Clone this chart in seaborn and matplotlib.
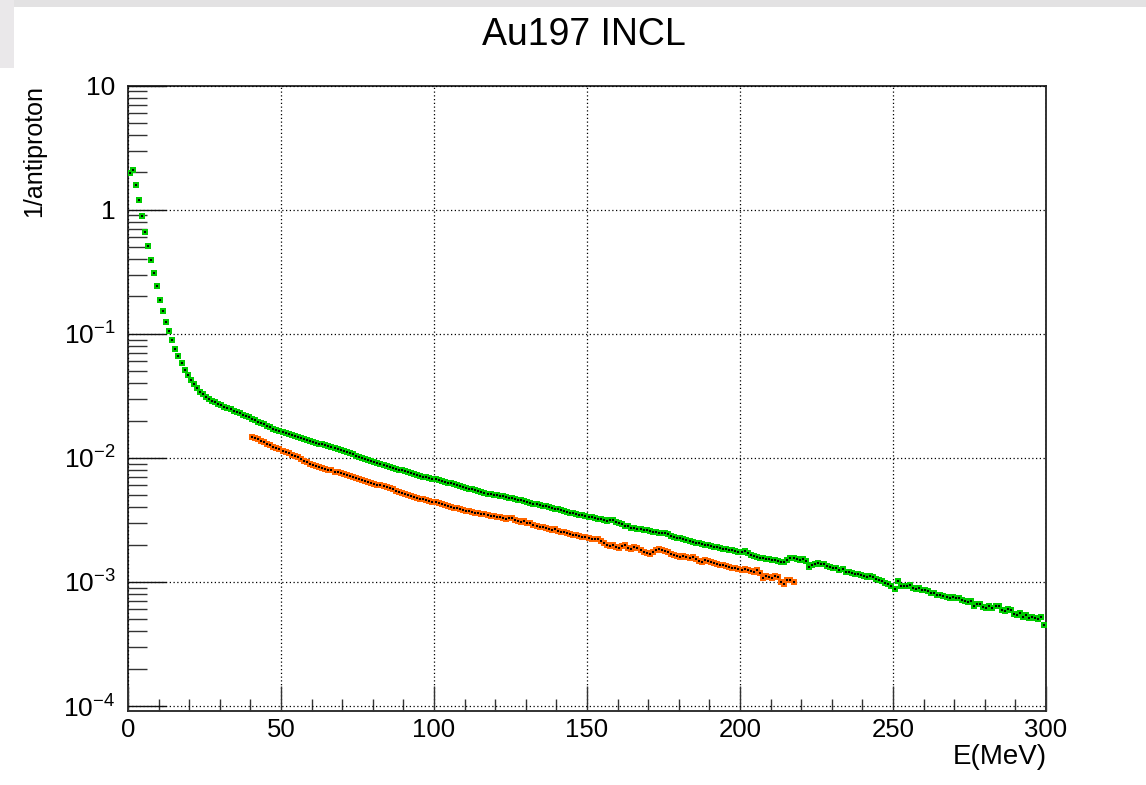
import numpy as np
import pandas as pd
import matplotlib
matplotlib.use("Agg")
import matplotlib.pyplot as plt
import seaborn as sns
from matplotlib.ticker import MultipleLocator, LogLocator, NullFormatter, FixedLocator
from matplotlib.patches import Rectangle

# ---------------- data (1 MeV bins) ----------------
title = "Au197 INCL"
x_label = "E(MeV)"
y_label = "1/antiproton"
bin_width = 1.0
green_first_bin = 0.0
orange_first_bin = 40.0

green_values = [
    1.98, 2.08, 1.57, 1.19, 0.89, 0.665, 0.513, 0.392, 0.308, 0.242,
    0.189, 0.153, 0.125, 0.105, 0.0887, 0.0751, 0.0657, 0.0577, 0.0510, 0.0462,
    0.0427, 0.0394, 0.0368, 0.0342, 0.0325, 0.0312, 0.0297, 0.0288, 0.0280, 0.0274,
    0.0266, 0.0259, 0.0254, 0.0246, 0.0240, 0.0236, 0.0230, 0.0223, 0.0219, 0.0213,
    0.0206, 0.0201, 0.0196, 0.0190, 0.0186, 0.0181, 0.0177, 0.0172, 0.0168, 0.0165,
    0.0162, 0.0159, 0.0156, 0.0153, 0.0150, 0.0147, 0.0145, 0.0141, 0.0139, 0.0137,
    0.0135, 0.0132, 0.0130, 0.0129, 0.0127, 0.0124, 0.0122, 0.0120, 0.0118, 0.0116,
    0.0113, 0.0111, 0.0109, 0.0107, 0.0104, 0.0102, 0.0100, 0.00985, 0.00965, 0.00950,
    0.00930, 0.00910, 0.00895, 0.00880, 0.00862, 0.00852, 0.00835, 0.00820, 0.00805, 0.00792,
    0.00780, 0.00765, 0.00752, 0.00740, 0.00728, 0.00715, 0.00705, 0.00698, 0.00688, 0.00680,
    0.00672, 0.00661, 0.00650, 0.00642, 0.00630, 0.00622, 0.00612, 0.00600, 0.00592, 0.00585,
    0.00575, 0.00565, 0.00558, 0.00548, 0.00538, 0.00530, 0.00524, 0.00515, 0.00510, 0.00505,
    0.00500, 0.00496, 0.00490, 0.00486, 0.00478, 0.00474, 0.00468, 0.00460, 0.00455, 0.00448,
    0.00442, 0.00436, 0.00428, 0.00422, 0.00418, 0.00412, 0.00406, 0.00400, 0.00394, 0.00390,
    0.00384, 0.00378, 0.00372, 0.00367, 0.00362, 0.00358, 0.00352, 0.00348, 0.00344, 0.00338,
    0.00334, 0.00332, 0.00328, 0.00324, 0.00320, 0.00316, 0.00312, 0.00316, 0.00314, 0.00305,
    0.00298, 0.00292, 0.00285, 0.00280, 0.00274, 0.00270, 0.00268, 0.00266, 0.00264, 0.00262,
    0.00258, 0.00255, 0.00252, 0.00250, 0.00250, 0.00246, 0.00242, 0.00236, 0.00232, 0.00228,
    0.00225, 0.00222, 0.00218, 0.00214, 0.00211, 0.00208, 0.00206, 0.00204, 0.00200, 0.00198,
    0.00196, 0.00193, 0.00190, 0.00188, 0.00186, 0.00183, 0.00181, 0.00180, 0.00177, 0.00176,
    0.00174, 0.00178, 0.00170, 0.00166, 0.00163, 0.00160, 0.00157, 0.00155, 0.00154, 0.00152,
    0.00150, 0.00149, 0.00147, 0.00146, 0.00146, 0.00150, 0.00156, 0.00155, 0.00152, 0.00150,
    0.00153, 0.00148, 0.00133, 0.00137, 0.00140, 0.00142, 0.00140, 0.00139, 0.00135, 0.00131,
    0.00130, 0.00129, 0.00125, 0.00127, 0.00121, 0.00120, 0.00119, 0.00115, 0.00117, 0.00114,
    0.00111, 0.00110, 0.00112, 0.00110, 0.00106, 0.00104, 0.00101, 0.00098, 0.00096, 0.000935,
    0.000880, 0.00101, 0.000935, 0.000920, 0.000935, 0.000945, 0.000900, 0.000880, 0.000890, 0.000865,
    0.000855, 0.000840, 0.000815, 0.000820, 0.000790, 0.000780, 0.000770, 0.000760, 0.000740, 0.000755,
    0.000745, 0.000740, 0.000720, 0.000700, 0.000690, 0.000700, 0.000640, 0.000670, 0.000665, 0.000630,
    0.000615, 0.000640, 0.000620, 0.000640, 0.000645, 0.000590, 0.000585, 0.000600, 0.000590, 0.000555,
    0.000540, 0.000560, 0.000520, 0.000545, 0.000510, 0.000525, 0.000510, 0.000505, 0.000525, 0.000450,
]

orange_values = [
    0.0148, 0.0144, 0.0141, 0.0137, 0.0134, 0.0130, 0.0127, 0.0123, 0.0120, 0.0117,
    0.0114, 0.0112, 0.0109, 0.0106, 0.0103, 0.0101, 0.00980, 0.00950, 0.00925, 0.00895,
    0.00872, 0.00862, 0.00850, 0.00830, 0.00820, 0.00805, 0.00795, 0.00775, 0.00765, 0.00752,
    0.00740, 0.00725, 0.00712, 0.00700, 0.00690, 0.00675, 0.00662, 0.00652, 0.00640, 0.00630,
    0.00620, 0.00610, 0.00600, 0.00590, 0.00578, 0.00568, 0.00558, 0.00545, 0.00535, 0.00525,
    0.00514, 0.00505, 0.00495, 0.00484, 0.00478, 0.00470, 0.00464, 0.00458, 0.00452, 0.00445,
    0.00440, 0.00432, 0.00425, 0.00418, 0.00412, 0.00405, 0.00398, 0.00392, 0.00385, 0.00379,
    0.00375, 0.00370, 0.00366, 0.00362, 0.00358, 0.00354, 0.00350, 0.00346, 0.00342, 0.00338,
    0.00335, 0.00333, 0.00326, 0.00320, 0.00325, 0.00330, 0.00318, 0.00310, 0.00305, 0.00308,
    0.00300, 0.00298, 0.00290, 0.00282, 0.00278, 0.00276, 0.00272, 0.00268, 0.00262, 0.00265,
    0.00258, 0.00254, 0.00255, 0.00250, 0.00245, 0.00240, 0.00238, 0.00236, 0.00232, 0.00230,
    0.00226, 0.00224, 0.00222, 0.00220, 0.00212, 0.00206, 0.00200, 0.00196, 0.00198, 0.00192,
    0.00188, 0.00194, 0.00198, 0.00188, 0.00186, 0.00192, 0.00188, 0.00180, 0.00175, 0.00172,
    0.00168, 0.00176, 0.00180, 0.00184, 0.00182, 0.00178, 0.00174, 0.00168, 0.00165, 0.00162,
    0.00160, 0.00162, 0.00158, 0.00155, 0.00158, 0.00152, 0.00148, 0.00146, 0.00150, 0.00148,
    0.00146, 0.00142, 0.00140, 0.00138, 0.00136, 0.00134, 0.00132, 0.00130, 0.00129, 0.00127,
    0.00126, 0.00127, 0.00124, 0.00122, 0.00120, 0.00124, 0.00118, 0.00108, 0.00112, 0.00110,
    0.00108, 0.00111, 0.00110, 0.00100, 0.00097, 0.00103, 0.00104, 0.00100,
]

x_major_ticks = [0, 50, 100, 150, 200, 250, 300]
y_major_ticks = [1e-4, 1e-3, 1e-2, 1e-1, 1, 10]
y_tick_labels = [r"$\mathregular{10^{-4}}$", r"$\mathregular{10^{-3}}$", r"$\mathregular{10^{-2}}$",
                 r"$\mathregular{10^{-1}}$", "1", "10"]

green_color = "#00cc00"
orange_color = "#ff6600"

# ---------------- build frames ----------------
def centers(first, n):
    return first + bin_width * (np.arange(n) + 0.5)

df_g = pd.DataFrame({"E": centers(green_first_bin, len(green_values)), "y": green_values})
df_o = pd.DataFrame({"E": centers(orange_first_bin, len(orange_values)), "y": orange_values})

# ---------------- style ----------------
sns.set_theme(style="white")
plt.rcParams["font.family"] = ["Liberation Sans", "DejaVu Sans"]
plt.rcParams["mathtext.fontset"] = "custom"
plt.rcParams["mathtext.rm"] = "Liberation Sans"
plt.rcParams["mathtext.it"] = "Liberation Sans:italic"
plt.rcParams["mathtext.bf"] = "Liberation Sans:bold"
plt.rcParams["text.color"] = "black"
plt.rcParams["xtick.labelcolor"] = "black"
plt.rcParams["ytick.labelcolor"] = "black"

fig = plt.figure(figsize=(11.46, 7.85), dpi=100)
fig.patch.set_facecolor("white")
# canvas window frame remnants (top band and left strip)
fig.patches.append(Rectangle((0, 1 - 7 / 785), 1, 7 / 785, transform=fig.transFigure,
                             facecolor="#e3e2e3", edgecolor="none", zorder=0))
fig.patches.append(Rectangle((0, 1 - 68 / 785), 14 / 1146, 68 / 785, transform=fig.transFigure,
                             facecolor="#eae8ea", edgecolor="none", zorder=0))

ax = fig.add_axes([128 / 1146, 1 - 711 / 785, (1046 - 128) / 1146, (711 - 85.7) / 785])

sns.scatterplot(data=df_g, x="E", y="y", marker="s", s=24, color=green_color,
                linewidth=0, ax=ax, zorder=3)
sns.scatterplot(data=df_o, x="E", y="y", marker="s", s=24, color=orange_color,
                linewidth=0, ax=ax, zorder=3)
# small black centre points (error bar remnants)
sns.scatterplot(data=df_g, x="E", y="y", marker="s", s=0.8, color="black",
                linewidth=0, ax=ax, zorder=4)
sns.scatterplot(data=df_o, x="E", y="y", marker="s", s=0.8, color="black",
                linewidth=0, ax=ax, zorder=4)

ax.set_yscale("log")
ax.set_xlim(0, 300)
ax.set_ylim(1e-4 * 10 ** (-0.04), 10)

ax.xaxis.set_major_locator(FixedLocator(x_major_ticks))
ax.xaxis.set_minor_locator(MultipleLocator(10))
ax.yaxis.set_major_locator(FixedLocator(y_major_ticks))
ax.yaxis.set_minor_locator(LogLocator(base=10, subs=np.arange(2, 10), numticks=20))
ax.yaxis.set_minor_formatter(NullFormatter())
ax.set_yticklabels(y_tick_labels)
ax.set_xticklabels([str(t) for t in x_major_ticks])

ax.tick_params(axis="x", which="major", direction="in", length=18, width=1.0,
               color="#333333", labelsize=18.5, pad=5, top=False, bottom=True)
ax.tick_params(axis="x", which="minor", direction="in", length=9, width=1.0,
               color="#333333", top=False, bottom=True)
ax.tick_params(axis="y", which="major", direction="in", length=27, width=1.0,
               color="#111111", labelsize=19, pad=9, left=True, right=False)
ax.tick_params(axis="y", which="minor", direction="in", length=14, width=1.0,
               color="#333333", left=True, right=False)

ax.grid(True, which="major", color="black", linestyle=(0, (1, 2)), linewidth=0.9)
ax.set_axisbelow(False)
for sp in ax.spines.values():
    sp.set_color("#222222")
    sp.set_linewidth(1.3)

ax.set_xlabel("")
ax.set_ylabel("")

fig.text(584 / 1146, 1 - 35 / 785, title, ha="center", va="center", fontsize=27, color="black")
fig.text(1047 / 1146, 1 - 764 / 785, x_label, ha="right", va="baseline", fontsize=20, color="black")
fig.text(34 / 1146, 1 - 85 / 785, y_label, ha="center", va="top", rotation=90, fontsize=18, color="black")

fig.savefig("out.png", dpi=100)
